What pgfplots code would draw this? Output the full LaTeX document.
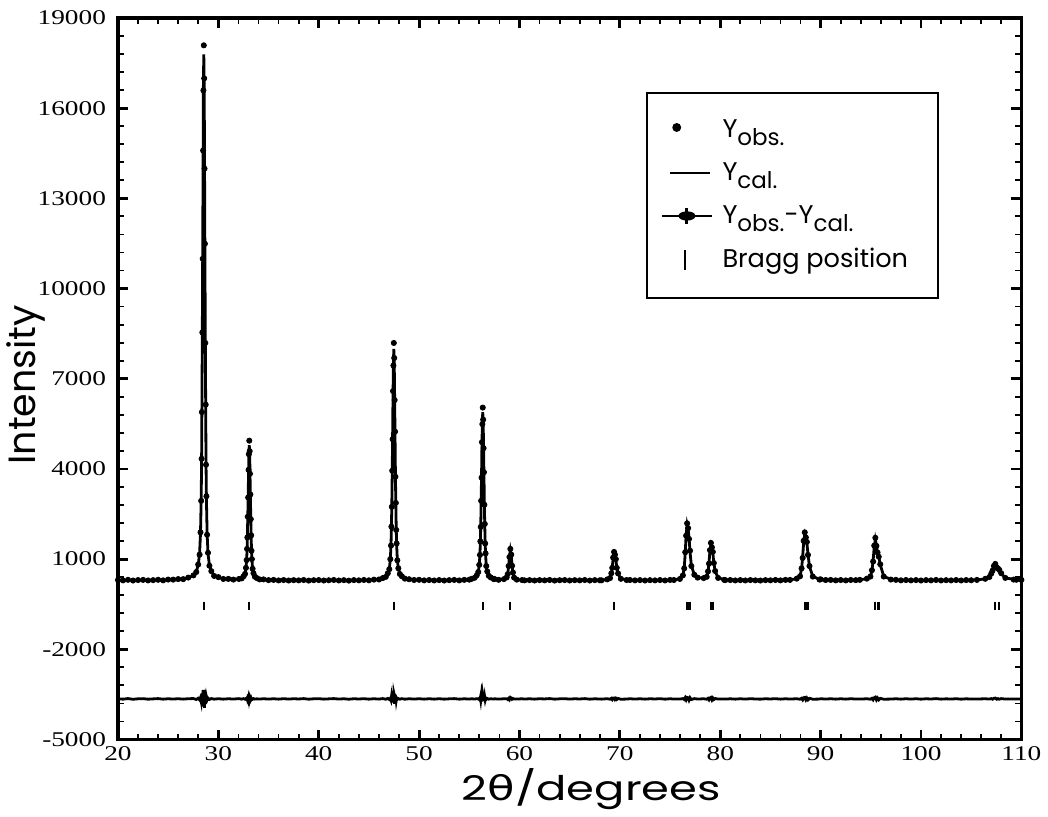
\documentclass[border=0pt]{standalone}
\usepackage{graphicx}
\usepackage{fontspec}
\setmainfont{Liberation Serif}
\newfontfamily\pop{Poppins}
\newfontfamily\dejavu{DejaVu Sans}
\usepackage{pgfplots}
\usepackage{pgfplotstable}
\pgfplotsset{compat=1.18}
\pgfplotstableread{
x obs cal res
20.0 305 300 -3645
20.5 292 300 -3658
21.0 312 300 -3638
21.5 288 300 -3662
22.0 304 300 -3646
22.5 309 300 -3641
23.0 291 300 -3659
23.5 301 300 -3649
24.0 313 302 -3639
24.5 294 302 -3658
25.0 320 315 -3645
25.5 318 322 -3654
26.0 336 330 -3644
26.5 334 340 -3656
27.0 386 380 -3644
27.52 460 448 -3638
27.80 570 588 -3668
27.99 820 798 -3628
28.13 1150 1183 -3683
28.22 1890 1848 -3608
28.29 2940 3020 -3730
28.33 4340 4228 -3538
28.36 5890 5995 -3755
28.40 8540 8358 -3468
28.44 10990 11245 -3905
28.48 14590 14290 -3350
28.51 16590 16793 -3853
28.55 18090 17790 -3350
28.59 16990 16793 -3453
28.62 13990 14290 -3950
28.66 11490 11245 -3405
28.70 8190 8358 -3818
28.74 6140 5995 -3505
28.77 4140 4228 -3738
28.81 3090 3020 -3580
28.88 1810 1848 -3688
28.97 1210 1183 -3623
29.11 780 798 -3668
29.30 600 588 -3638
29.58 440 448 -3658
30.0 402 395 -3643
30.5 340 347 -3657
31.0 342 336 -3644
31.5 320 325 -3655
32.05 340 330 -3640
32.33 360 367 -3657
32.52 430 421 -3641
32.66 510 520 -3660
32.75 710 691 -3640
32.82 970 992 -3661
32.86 1340 1303 -3631
32.89 1720 1757 -3668
32.93 2410 2365 -3627
32.97 3050 3107 -3678
33.01 3970 3890 -3610
33.04 4490 4534 -3672
33.08 4940 4790 -3575
33.12 4590 4534 -3622
33.15 3840 3890 -3675
33.19 3150 3107 -3628
33.23 2330 2365 -3667
33.27 1790 1757 -3633
33.30 1280 1303 -3661
33.34 1000 992 -3642
33.41 680 691 -3661
33.50 530 520 -3640
33.64 415 421 -3656
33.83 370 367 -3647
34.11 325 330 -3655
34.5 326 320 -3644
35.0 302 308 -3656
35.5 308 302 -3644
36.0 291 298 -3657
36.5 304 296 -3642
37.0 289 295 -3656
37.5 301 295 -3644
38.0 293 295 -3652
38.5 305 295 -3640
39.0 286 295 -3659
39.5 299 295 -3646
40.0 303 295 -3642
40.5 288 295 -3657
41.0 297 295 -3648
41.5 306 295 -3639
42.0 290 295 -3655
42.5 300 295 -3645
43.0 285 295 -3660
43.5 302 296 -3644
44.0 294 297 -3653
44.5 307 299 -3642
45.0 295 303 -3658
45.5 318 312 -3644
46.0 322 328 -3656
46.38 370 359 -3639
46.68 410 421 -3661
46.88 530 513 -3633
47.03 665 683 -3668
47.13 1000 975 -3625
47.20 1450 1491 -3691
47.24 2080 2023 -3593
47.28 2740 2800 -3710
47.32 3940 3840 -3550
47.36 4990 5110 -3770
47.40 6590 6450 -3510
47.44 7440 7551 -3761
47.48 8190 7990 -3450
47.52 7690 7551 -3511
47.56 6290 6450 -3810
47.60 5240 5110 -3520
47.64 3740 3840 -3750
47.68 2870 2800 -3580
47.72 1970 2023 -3703
47.76 1520 1491 -3621
47.83 960 975 -3665
47.93 695 683 -3638
48.08 505 513 -3658
48.28 430 421 -3641
48.58 350 359 -3659
49.0 331 325 -3644
49.5 306 312 -3656
50.0 312 305 -3643
50.5 293 300 -3657
51.0 304 298 -3644
51.5 290 297 -3657
52.0 303 296 -3643
52.5 288 296 -3658
53.0 300 297 -3647
53.5 308 298 -3640
54.0 292 300 -3658
54.5 310 305 -3645
55.0 316 322 -3656
55.24 345 340 -3645
55.54 380 385 -3655
55.74 460 452 -3642
55.89 570 576 -3656
55.99 810 788 -3628
56.06 1140 1164 -3674
56.10 1590 1550 -3610
56.14 2070 2116 -3696
56.18 2940 2872 -3582
56.22 3710 3796 -3736
56.26 4890 4770 -3530
56.30 5490 5571 -3731
56.34 6040 5890 -3500
56.38 5640 5571 -3581
56.42 4690 4770 -3730
56.46 3890 3796 -3556
56.50 2810 2872 -3712
56.54 2170 2116 -3596
56.58 1520 1550 -3680
56.62 1190 1164 -3624
56.69 770 788 -3668
56.79 590 576 -3636
56.94 445 452 -3657
57.14 390 385 -3645
57.44 335 340 -3655
57.5 340 335 -3645
57.92 312 318 -3656
58.45 335 330 -3645
58.72 390 385 -3645
58.83 500 518 -3668
58.92 770 754 -3634
59.00 1070 1092 -3672
59.09 1340 1290 -3600
59.18 1150 1120 -3620
59.26 780 790 -3660
59.35 555 540 -3635
59.46 385 390 -3655
59.73 318 322 -3654
60.26 304 300 -3646
60.5 293 298 -3655
61.0 302 297 -3645
61.5 289 296 -3657
62.0 301 295 -3644
62.5 294 295 -3651
63.0 306 295 -3639
63.5 287 295 -3658
64.0 298 295 -3647
64.5 303 295 -3642
65.0 289 295 -3656
65.5 300 295 -3645
66.0 293 295 -3652
66.5 305 295 -3640
67.0 288 296 -3658
67.5 301 297 -3646
68.0 296 299 -3653
68.17 295 302 -3657
68.74 325 318 -3643
69.02 370 380 -3660
69.15 530 510 -3630
69.24 710 730 -3670
69.33 1050 1020 -3620
69.42 1240 1210 -3620
69.51 1150 1170 -3670
69.60 1000 980 -3630
69.69 710 730 -3670
69.82 525 510 -3635
70.10 345 355 -3660
70.67 305 310 -3655
71.0 306 300 -3644
71.5 293 298 -3655
72.0 302 297 -3645
72.5 289 296 -3657
73.0 300 295 -3645
73.5 293 295 -3652
74.0 304 296 -3642
74.5 290 298 -3658
75.0 308 302 -3644
75.38 305 310 -3655
75.98 340 345 -3655
76.28 460 450 -3640
76.41 690 710 -3670
76.51 1230 1190 -3610
76.60 1780 1810 -3680
76.70 2190 2140 -3600
76.80 2030 1990 -3610
76.89 1670 1710 -3690
76.99 1280 1240 -3610
77.12 770 790 -3670
77.42 480 470 -3640
77.75 385 390 -3655
78.35 370 365 -3645
78.65 410 420 -3660
78.78 590 570 -3630
78.88 850 880 -3680
78.97 1300 1270 -3620
79.07 1540 1490 -3600
79.17 1390 1420 -3680
79.26 1240 1210 -3620
79.36 870 890 -3670
79.49 605 590 -3635
79.79 375 380 -3655
80.39 310 315 -3655
80.5 302 308 -3656
81.0 304 300 -3646
81.5 291 298 -3657
82.0 302 297 -3645
82.5 290 296 -3656
83.0 303 296 -3643
83.5 294 296 -3652
84.0 288 296 -3658
84.5 301 296 -3645
85.0 295 297 -3652
85.5 306 298 -3642
86.0 293 300 -3657
86.5 309 304 -3645
86.95 308 312 -3654
87.62 350 345 -3645
87.95 430 440 -3660
88.10 690 670 -3630
88.21 1040 1070 -3680
88.31 1610 1570 -3610
88.42 1890 1840 -3600
88.53 1720 1750 -3680
88.63 1570 1540 -3620
88.74 1140 1170 -3680
88.89 770 750 -3630
89.22 420 430 -3660
89.89 320 325 -3655
90.0 328 322 -3644
90.5 305 310 -3655
91.0 308 303 -3645
91.5 293 300 -3657
92.0 304 299 -3645
92.5 292 299 -3657
93.0 306 300 -3644
93.5 300 304 -3654
93.91 310 315 -3655
94.61 350 345 -3645
94.96 420 430 -3660
95.11 630 610 -3630
95.23 920 950 -3680
95.34 1450 1410 -3610
95.45 1710 1650 -3590
95.56 1440 1470 -3680
95.67 1220 1190 -3620
95.79 1080 1110 -3680
95.94 830 810 -3630
96.29 420 430 -3660
96.99 320 325 -3655
97.5 311 306 -3645
98.0 294 301 -3657
98.5 305 299 -3644
99.0 292 298 -3656
99.5 303 297 -3644
100.0 289 297 -3658
100.5 302 297 -3645
101.0 294 297 -3653
101.5 307 297 -3640
102.0 290 297 -3657
102.5 300 297 -3647
103.0 293 297 -3654
103.5 304 298 -3644
104.0 290 298 -3658
104.5 303 299 -3646
105.0 297 301 -3654
105.57 308 312 -3654
106.40 345 340 -3645
106.81 405 410 -3655
107.00 520 510 -3640
107.13 620 630 -3660
107.26 770 750 -3630
107.40 840 810 -3620
107.54 730 740 -3660
107.67 690 680 -3640
107.80 640 650 -3660
107.99 530 520 -3640
108.40 375 380 -3655
109.23 320 325 -3655
109.5 314 320 -3656
110.0 310 315 -3655
}\xrd
\pgfplotstableread{
x y
28.55 -550
33.08 -550
47.48 -550
56.34 -550
59.09 -550
69.42 -550
76.70 -550
76.93 -550
79.07 -550
79.30 -550
88.42 -550
88.70 -550
95.45 -550
95.77 -550
107.40 -550
107.79 -550
}\bragg
\newcommand{\sub}[1]{\raisebox{-0.55ex}{\fontsize{11.5}{13}\selectfont #1}}
\begin{document}
\begin{tikzpicture}
\begin{axis}[
  scale only axis, width=452pt, height=361pt,
  xmin=20, xmax=110, ymin=-5000, ymax=19000,
  xtick={20,30,...,110}, ytick={-5000,-2000,...,19000},
  minor x tick num=4, minor y tick num=4,
  scaled ticks=false,
  tick align=inside,
  major tick length=5pt, minor tick length=3pt,
  major tick style={line width=1.4pt, black},
  minor tick style={line width=0.9pt, black},
  axis line style={line width=1.6pt},
  /pgf/number format/.cd, 1000 sep={}, assume math mode=true, /pgfplots/.cd,
  tick label style={font=\fontsize{10.5}{12}\selectfont},
  yticklabel style={xshift=-2.5pt},
  xticklabel={\scalebox{1.3}[1]{\pgfmathprintnumber{\tick}}},
  yticklabel={\scalebox{1.3}[1]{\pgfmathprintnumber{\tick}}},
  xlabel={\scalebox{1.32}[1]{\pop 2{\dejavu θ}/degrees}},
  ylabel={\pop Intensity},
  xlabel style={font=\fontsize{17}{20}\selectfont, at={(axis description cs:0.524,-0.0693)}, anchor=center},
  ylabel style={font=\fontsize{19}{22}\selectfont, at={(axis description cs:-0.1018,0.4917)}, anchor=center},
  legend cell align=left,
  legend style={at={(0.584,0.8975)}, anchor=north west, draw=black, line width=1pt,
    font=\pop\fontsize{12.8}{15}\selectfont, row sep=7pt, inner xsep=5pt, inner ysep=11.5pt},
  clip=false,
]
\addplot[only marks, mark=*, mark size=1.3pt, black,
  legend image code/.code={\path (0cm,0cm) (1.04cm,0cm); \fill[black] (0.33cm,0.05cm) circle (1.7pt);}]
  table[x=x, y=obs]{\xrd};
\addlegendentry{Y\sub{obs.}}
\addplot[black, line width=1.4pt,
  legend image code/.code={\path (0cm,0cm) (1.04cm,0cm); \draw[line width=0.9pt] (0.21cm,0cm) -- (0.92cm,0cm);}]
  table[x=x, y=cal]{\xrd};
\addlegendentry{Y\sub{cal.}}
\addplot[black, line width=1.4pt,
  legend image code/.code={\path (0cm,0cm) (1.04cm,0cm);
    \draw[line width=1.2pt] (0.07cm,0cm) -- (0.95cm,0cm);
    \fill (0.51cm,0cm) ellipse (3.5pt and 1.6pt);
    \draw[line width=1.5pt] (0.51cm,-3.8pt) -- (0.51cm,3.8pt);}]
  table[x=x, y=res]{\xrd};
\addlegendentry{Y\sub{obs.}-Y\sub{cal.}}
\addplot[only marks, mark=|, mark size=2pt, black, mark options={line width=1.1pt},
  legend image code/.code={\path (0cm,0cm) (1.04cm,0cm); \draw[line width=1.1pt] (0.48cm,-5pt) -- (0.48cm,5pt);}]
  table[x=x, y=y]{\bragg};
\addlegendentry{Bragg position\hspace*{8pt}}
\path (rel axis cs:-0.1305,-0.0970) rectangle (rel axis cs:1.0288,1.0249);
\end{axis}
\end{tikzpicture}
\end{document}
